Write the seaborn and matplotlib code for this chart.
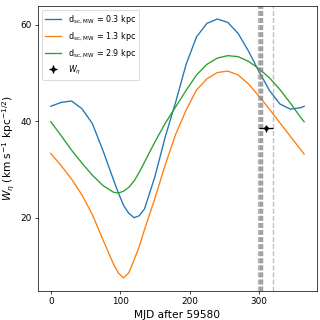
"""W_eta model curves for three screen distances vs. MJD, with the measured value."""

import matplotlib.pyplot as plt
import pandas as pd
import seaborn as sns

# model curves (MJD after 59580)
mjd = [0, 15, 30, 45, 60, 75, 90, 97.5, 105, 112.5, 120, 127.5, 135, 150, 165, 180,
       195, 210, 225, 240, 255, 270, 285, 300, 315, 330, 345, 360, 365]
w_03 = [43.1, 43.9, 44.2, 42.6, 39.5, 34.0, 28.0, 25.1, 22.5, 20.9, 20.0, 20.4, 21.8,
        28.5, 36.8, 44.0, 51.8, 57.5, 60.3, 61.2, 60.5, 58.2, 54.5, 50.3, 46.4, 43.6,
        42.5, 42.8, 43.1]
w_13 = [33.3, 30.8, 28.0, 24.7, 20.6, 15.5, 10.5, 8.5, 7.5, 8.6, 11.2, 14.0, 17.5,
        24.0, 31.0, 37.3, 42.3, 46.5, 48.8, 50.1, 50.4, 49.6, 47.7, 45.2, 42.5, 39.7,
        36.9, 34.1, 33.2]
w_29 = [39.9, 37.0, 34.0, 31.3, 28.8, 26.7, 25.3, 25.1, 25.5, 26.3, 27.6, 29.4, 31.5,
        35.7, 39.6, 43.0, 46.4, 49.6, 51.8, 53.1, 53.6, 53.4, 52.4, 50.9, 49.0, 46.6,
        43.8, 40.8, 39.9]
labels = [r"d$_{\rm sc,\,MW}$ = 0.3 kpc",
          r"d$_{\rm sc,\,MW}$ = 1.3 kpc",
          r"d$_{\rm sc,\,MW}$ = 2.9 kpc"]

# observation epochs and the measured W_eta
obs_mjd = [299, 300, 301, 302, 303, 304, 305, 320]
meas_mjd = 310
meas_mjd_err = 10
meas_w = 38.5
meas_w_err = 0.8

df = pd.concat(
    [pd.DataFrame({"mjd": mjd, "w": w, "model": lab})
     for w, lab in zip([w_03, w_13, w_29], labels)],
    ignore_index=True,
)

fig, ax = plt.subplots(figsize=(5, 5), dpi=64)
fig.subplots_adjust(left=0.119, right=0.99, top=0.981, bottom=0.091)

sns.lineplot(data=df, x="mjd", y="w", hue="model", palette="tab10",
             ax=ax, legend=True)

for m in obs_mjd:
    ax.axvline(m, color="grey", ls="--", alpha=0.5, lw=1.5)

ax.errorbar(meas_mjd, meas_w, xerr=meas_mjd_err, yerr=meas_w_err,
            fmt="o", color="k", ms=4, label=r"$W_\eta$")

ax.set_xticks([0, 100, 200, 300])
ax.set_yticks([20, 40, 60])
ax.tick_params(labelsize=10)
ax.set_xlabel("MJD after 59580", fontsize=12)
ax.set_ylabel(r"$W_\eta$ (km s$^{-1}$ kpc$^{-1/2}$)", fontsize=12)
ax.legend(loc="upper left", fontsize=9)

fig.savefig("out.png", dpi=64)
